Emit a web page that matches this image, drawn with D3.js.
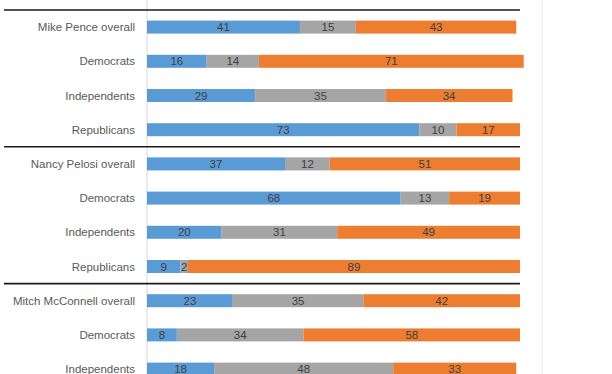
<!DOCTYPE html>
<html>
<head>
<meta charset="utf-8">
<script src="https://cdn.jsdelivr.net/npm/d3@7"></script>
<style>
  body { margin: 0; background: #fff; }
  svg { display: block; font-family: "Liberation Sans", Arial, sans-serif; }
</style>
</head>
<body>
<svg id="chart" width="612" height="374"></svg>
<script>
  "use strict";

  var categories = [
    "Mike Pence overall", "Democrats", "Independents", "Republicans",
    "Nancy Pelosi overall", "Democrats", "Independents", "Republicans",
    "Mitch McConnell overall", "Democrats", "Independents"
  ];
  var favorable   = [41, 16, 29, 73, 37, 68, 20, 9, 23, 8, 18];
  var noOpinion   = [15, 14, 35, 10, 12, 13, 31, 2, 35, 34, 48];
  var unfavorable = [43, 71, 34, 17, 51, 19, 49, 89, 42, 58, 33];
  var groupStarts = [0, 4, 8];

  var series = [
    { key: "favorable", values: favorable, color: "#5b9bd5" },
    { key: "noOpinion", values: noOpinion, color: "#a5a5a5" },
    { key: "unfavorable", values: unfavorable, color: "#ed7d31" }
  ];

  var svg = d3.select("#chart");

  var x = d3.scaleLinear().domain([0, 100]).range([147, 520]);
  var y = d3.scaleBand()
      .domain(d3.range(categories.length))
      .range([10, 10 + categories.length * 34.2]);
  var barH = y.bandwidth() * 0.38;

  // light frame lines
  svg.append("line")
      .attr("x1", x(0)).attr("x2", x(0))
      .attr("y1", 0).attr("y2", 374)
      .attr("stroke", "#d9d9d9").attr("stroke-width", 1);
  svg.append("line")
      .attr("x1", 542).attr("x2", 542)
      .attr("y1", 0).attr("y2", 374)
      .attr("stroke", "#ececec").attr("stroke-width", 1);

  // stacked segments
  categories.forEach(function (cat, i) {
    var start = 0;
    series.forEach(function (s) {
      var v = s.values[i];
      var g = svg.append("g");
      g.append("rect")
          .attr("x", x(start))
          .attr("y", y(i) + (y.bandwidth() - barH) / 2)
          .attr("width", x(start + v) - x(start))
          .attr("height", barH)
          .attr("fill", s.color);
      g.append("text")
          .attr("x", (x(start) + x(start + v)) / 2)
          .attr("y", y(i) + y.bandwidth() / 2)
          .attr("dy", "0.36em")
          .attr("text-anchor", "middle")
          .attr("font-size", 11.5)
          .attr("fill", "#404040")
          .text(v);
      start += v;
    });
  });

  // category labels
  svg.selectAll("text.cat")
    .data(categories)
    .enter().append("text")
      .attr("class", "cat")
      .attr("x", 135)
      .attr("y", function (d, i) { return y(i) + y.bandwidth() / 2; })
      .attr("dy", "0.36em")
      .attr("text-anchor", "end")
      .attr("font-size", 11.5)
      .attr("fill", "#595959")
      .text(function (d) { return d; });

  // group separators
  svg.selectAll("line.sep")
    .data(groupStarts)
    .enter().append("line")
      .attr("class", "sep")
      .attr("x1", 4).attr("x2", x(100))
      .attr("y1", function (d) { return y(d); })
      .attr("y2", function (d) { return y(d); })
      .attr("stroke", "#1a1a1a").attr("stroke-width", 1.6);
</script>
</body>
</html>
